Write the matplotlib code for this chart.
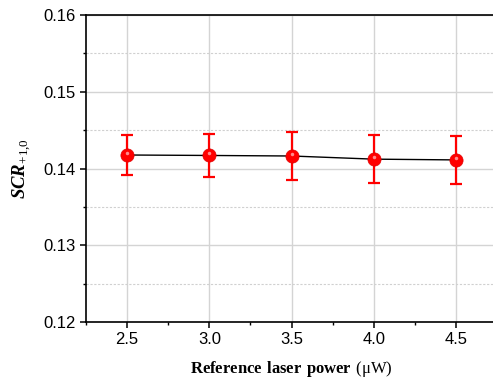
import numpy as np
import matplotlib
matplotlib.use("Agg")
import matplotlib.pyplot as plt
from matplotlib.ticker import MultipleLocator

plt.rcParams['mathtext.fontset'] = 'custom'
plt.rcParams['mathtext.rm'] = 'Liberation Serif'
plt.rcParams['mathtext.bf'] = 'Liberation Serif:bold'
plt.rcParams['mathtext.bfit'] = 'Liberation Serif:italic:bold'

# data
power = [2.5, 3.0, 3.5, 4.0, 4.5]
scr = [0.14176, 0.14170, 0.14163, 0.14122, 0.14112]
scr_err = [0.00265, 0.00280, 0.00310, 0.00310, 0.00315]
xticks = [2.5, 3.0, 3.5, 4.0, 4.5]
yticks = [0.12, 0.13, 0.14, 0.15, 0.16]

fig = plt.figure(figsize=(4.93, 3.8), dpi=100)
ax = fig.add_axes([0.1744, 0.1526, 0.834, 0.8079])

ax.plot(power, scr, color='black', lw=1, zorder=3)
ax.errorbar(power, scr, yerr=scr_err, fmt='none', ecolor='#ff0000',
            elinewidth=1.6, capsize=4, capthick=1.6, zorder=4)
ax.plot(power, scr, 'o', color='#ff0000', ms=9.5, mec='#e00000', mew=0.5, zorder=5)
# little highlight on each sphere
ax.plot(power, np.array(scr) + 0.0003, 'o', color='#ffb0b0', ms=2.5, mew=0,
        alpha=0.8, zorder=6)

ax.set_xlim(2.25, 4.75)
ax.set_ylim(0.12, 0.16)
ax.set_xticks(xticks)
ax.set_yticks(yticks)
ax.set_xticklabels(['%.1f' % v for v in xticks])
ax.set_yticklabels(['%.2f' % v for v in yticks])
ax.xaxis.set_minor_locator(MultipleLocator(0.25))
ax.yaxis.set_minor_locator(MultipleLocator(0.005))

ax.grid(True, which='major', color='#d4d4d4', lw=1, ls='-')
ax.grid(True, which='minor', axis='y', color='#d0d0d0', lw=0.8, ls=(0, (2, 1.5)))
ax.set_axisbelow(True)

for s in ['left', 'bottom', 'top']:
    ax.spines[s].set_linewidth(1.2)
ax.spines['right'].set_visible(False)
ax.tick_params(which='major', direction='out', length=4, width=1.1,
               labelsize=12, top=False, right=False)
ax.tick_params(which='minor', direction='out', length=2.5, width=1.0,
               top=False, right=False)
for lab in ax.get_xticklabels() + ax.get_yticklabels():
    lab.set_fontfamily('Liberation Sans')

ax.set_xlabel(r'$\mathbf{Reference\ laser\ power}\ (\mathrm{\mu W})$', fontsize=12, labelpad=8)
ax.set_ylabel(r'$\mathbfit{SCR}_{\mathrm{+1{,}0}}$', fontsize=13.5, labelpad=7)

fig.savefig('out.png', dpi=100)
